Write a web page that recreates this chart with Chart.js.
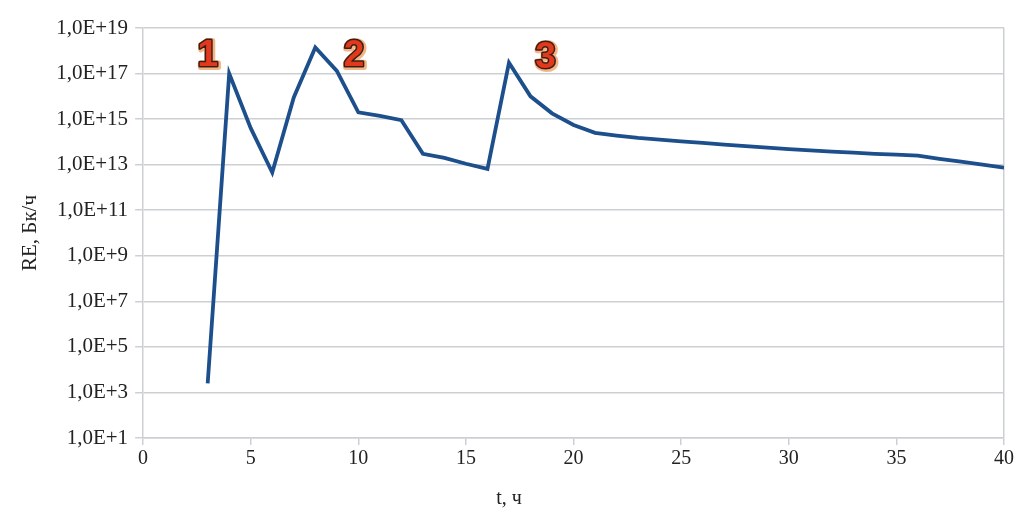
<!DOCTYPE html>
<html lang="ru">
<head>
  <meta charset="UTF-8" />
  <title>RE, Бк/ч</title>
  <script src="https://cdn.jsdelivr.net/npm/chart.js"></script>
  <style>
    html, body { margin: 0; padding: 0; background: #fff; }
    #wrap { width: 1016px; height: 515px; }
  </style>
</head>
<body>
  <div id="wrap"><canvas id="reChart"></canvas></div>

  <script>
    // time, hours
    const hours = [3, 4, 5, 6, 7, 8, 9, 10, 11, 12, 13, 14, 15, 16, 17, 18, 19, 20, 21, 22,
                   23, 24, 25, 26, 27, 28, 29, 30, 31, 32, 33, 34, 35, 36, 37, 38, 39, 40];
    // release rate, Bq/h
    const release = [2.5e3, 1e17, 4e14, 4.5e12, 9e15, 1.4e18, 1.3e17, 2e15, 1.4e15, 9e14,
                     3e13, 2e13, 1.1e13, 6.5e12, 3e17, 1e16, 1.8e15, 5.5e14, 2.5e14, 1.9e14,
                     1.5e14, 1.25e14, 1.05e14, 9e13, 7.6e13, 6.5e13, 5.6e13, 4.8e13, 4.2e13, 3.7e13,
                     3.4e13, 3e13, 2.75e13, 2.5e13, 1.8e13, 1.35e13, 1e13, 7.4e12];

    const yTicks = [1e1, 1e3, 1e5, 1e7, 1e9, 1e11, 1e13, 1e15, 1e17, 1e19];
    const yTickLabels = ['1,0E+1', '1,0E+3', '1,0E+5', '1,0E+7', '1,0E+9',
                         '1,0E+11', '1,0E+13', '1,0E+15', '1,0E+17', '1,0E+19'];
    const xTicks = [0, 5, 10, 15, 20, 25, 30, 35, 40];

    // peak markers
    const peakLabels = ['1', '2', '3'];
    const peakX = [3, 9.8, 18.7];
    const peakY = [6e17, 6e17, 5e17];

    const gridGray = '#cdd0d3';
    const serif = "'Liberation Serif', 'DejaVu Serif', serif";

    const peakPlugin = {
      id: 'peaks',
      afterDatasetsDraw(chart) {
        const ctx = chart.ctx;
        const xs = chart.scales.x, ys = chart.scales.y;
        ctx.save();
        ctx.font = "bold 37px 'Liberation Sans', Arial, sans-serif";
        ctx.textAlign = 'center';
        ctx.textBaseline = 'middle';
        ctx.lineJoin = 'round';
        peakLabels.forEach((txt, i) => {
          const px = xs.getPixelForValue(peakX[i]);
          const py = ys.getPixelForValue(peakY[i]);
          ctx.strokeStyle = 'rgba(240,150,80,0.7)';
          ctx.lineWidth = 6;
          ctx.strokeText(txt, px + 1, py + 1);
          ctx.strokeStyle = '#3b1f17';
          ctx.lineWidth = 3;
          ctx.strokeText(txt, px, py);
          ctx.fillStyle = '#e2391c';
          ctx.fillText(txt, px, py);
        });
        ctx.restore();
      }
    };

    new Chart(document.getElementById('reChart'), {
      type: 'line',
      data: {
        datasets: [{
          data: hours.map((t, i) => ({ x: t, y: release[i] })),
          borderColor: '#1c4f8c',
          borderWidth: 3.8,
          pointRadius: 0,
          tension: 0,
          fill: false
        }]
      },
      options: {
        responsive: true,
        maintainAspectRatio: false,
        animation: false,
        layout: { padding: { top: 28, right: 12, left: 14, bottom: 2 } },
        plugins: {
          legend: { display: false },
          tooltip: { enabled: false },
          title: {
            display: true,
            position: 'bottom',
            text: 't, ч',
            color: '#222',
            font: { family: serif, size: 20, weight: 'normal' },
            padding: { top: 14, bottom: 2 }
          }
        },
        scales: {
          x: {
            type: 'linear',
            min: 0,
            max: 40,
            afterBuildTicks: s => { s.ticks = xTicks.map(v => ({ value: v })); },
            ticks: {
              color: '#222',
              font: { family: serif, size: 20 },
              padding: 2
            },
            grid: {
              color: c => (c.tick && c.tick.value === 40) ? gridGray : 'transparent',
              tickColor: gridGray,
              tickLength: 7,
              lineWidth: 1.5
            },
            border: { color: gridGray, width: 1.5 }
          },
          y: {
            type: 'logarithmic',
            min: 1e1,
            max: 1e19,
            afterBuildTicks: s => { s.ticks = yTicks.map(v => ({ value: v })); },
            ticks: {
              color: '#222',
              font: { family: serif, size: 21 },
              padding: 7,
              callback: (v, i) => yTickLabels[i]
            },
            grid: {
              color: gridGray,
              tickColor: gridGray,
              tickLength: 8,
              lineWidth: 1.5
            },
            border: { color: gridGray, width: 1.5 },
            title: {
              display: true,
              text: 'RE, Бк/ч',
              color: '#222',
              font: { family: serif, size: 21 },
              padding: { bottom: 6 }
            }
          }
        }
      },
      plugins: [peakPlugin]
    });
  </script>
</body>
</html>
